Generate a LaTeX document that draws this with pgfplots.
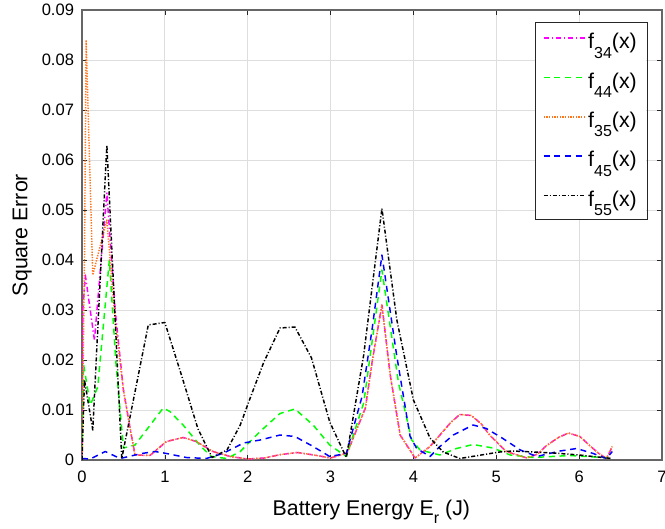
\documentclass[border=0pt]{standalone}
\usepackage{pgfplots}
\pgfplotsset{compat=1.18}
\usepackage{fontspec}
\setmainfont{Liberation Sans}
\definecolor{axgray}{gray}{0.15}
\definecolor{myorange}{rgb}{1,0.45,0.1}
\definecolor{myblue}{rgb}{0,0,1}
\definecolor{mygreen}{rgb}{0,1,0}
\definecolor{mymagenta}{rgb}{1,0,1}
\newcommand{\sub}[1]{\raisebox{-7pt}{\fontsize{12}{12}\selectfont #1}}
\newcommand{\subx}[1]{\raisebox{-6pt}{\fontsize{12}{12}\selectfont #1}}

\pgfplotstableread{
x y
0 0.0
0.03 0.016
0.13 0.006
0.30 0.063
0.48 0.0003
0.80 0.027
1.00 0.0275
1.20 0.017
1.40 0.0062
1.57 0.0005
1.75 0.002
1.91 0.007
2.03 0.0124
2.19 0.0194
2.39 0.0264
2.57 0.0266
2.77 0.0204
2.99 0.0076
3.19 0.0005
3.40 0.021
3.62 0.0503
3.80 0.028
4.00 0.012
4.20 0.0044
4.36 0.0016
4.56 0.0003
5.04 0.0016
5.20 0.0018
5.69 0.0014
6.00 0.001
6.34 0.0004
6.40 0.0003
}\ffive

\pgfplotstableread{
x y
0 0.001
0.01 0.030
0.04 0.037
0.15 0.024
0.30 0.0534
0.40 0.030
0.50 0.014
0.58 0.0064
0.64 0.001
0.82 0.0009
1.02 0.0037
1.22 0.0045
1.38 0.0037
1.58 0.0017
1.79 0.0007
2.00 0.0002
2.20 0.0004
2.40 0.0011
2.60 0.0015
2.80 0.001
3.00 0.0004
3.20 0.0014
3.42 0.0104
3.51 0.0205
3.62 0.031
3.72 0.017
3.84 0.005
4.02 0.0004
4.20 0.0027
4.32 0.005
4.45 0.0075
4.56 0.0091
4.70 0.0089
4.82 0.0072
4.92 0.005
5.12 0.0017
5.37 0.0004
5.50 0.0012
5.60 0.0028
5.75 0.0045
5.87 0.0054
6.01 0.0047
6.12 0.003
6.23 0.0014
6.33 0.0003
6.40 0.0027
}\fthreefour

\pgfplotstableread{
x y
0 0.001
0.03 0.040
0.05 0.084
0.13 0.037
0.30 0.048
0.40 0.028
0.50 0.014
0.58 0.0064
0.64 0.001
0.82 0.0009
1.02 0.0037
1.22 0.0045
1.38 0.0037
1.58 0.0017
1.79 0.0007
2.00 0.0002
2.20 0.0004
2.40 0.0011
2.60 0.0015
2.80 0.001
3.00 0.0004
3.20 0.0014
3.42 0.0104
3.51 0.0205
3.62 0.031
3.72 0.017
3.84 0.005
4.02 0.0004
4.20 0.0027
4.32 0.005
4.45 0.0075
4.56 0.0091
4.70 0.0089
4.82 0.0072
4.92 0.005
5.12 0.0017
5.37 0.0004
5.50 0.0012
5.60 0.0028
5.75 0.0045
5.87 0.0054
6.01 0.0047
6.12 0.003
6.23 0.0014
6.33 0.0003
6.40 0.0027
}\fthreefive

\pgfplotstableread{
x y
0 0.002
0.02 0.019
0.10 0.011
0.19 0.0146
0.33 0.040
0.41 0.0193
0.50 0.0024
0.64 0.003
0.98 0.0104
1.06 0.0097
1.22 0.007
1.42 0.003
1.56 0.0007
1.75 0.0003
1.91 0.0017
2.15 0.0057
2.39 0.0093
2.57 0.0102
2.79 0.007
2.99 0.003
3.19 0.0007
3.40 0.0114
3.62 0.038
3.82 0.0154
3.98 0.004
4.08 0.002
4.32 0.001
4.52 0.0023
4.72 0.0031
4.96 0.0024
5.17 0.001
5.45 0.0005
5.89 0.0009
6.09 0.0007
6.40 0.0004
}\ffourfour

\pgfplotstableread{
x y
0 0.0003
0.10 0.0002
0.28 0.0017
0.46 0.0003
0.72 0.0013
0.88 0.0017
1.02 0.0013
1.26 0.0005
1.50 0.0003
1.70 0.0013
1.95 0.0034
2.15 0.004
2.39 0.005
2.57 0.0047
2.79 0.0027
2.99 0.0007
3.19 0.0013
3.38 0.0127
3.50 0.026
3.62 0.041
3.80 0.0207
3.96 0.0047
4.04 0.0023
4.20 0.0007
4.32 0.0027
4.48 0.005
4.72 0.007
4.88 0.0063
5.08 0.0043
5.29 0.002
5.49 0.0007
5.77 0.0018
5.97 0.0023
6.17 0.0013
6.33 0.0003
6.40 0.0017
}\ffourfive

\begin{document}
\begin{tikzpicture}
\begin{axis}[
  scale only axis, width=435pt, height=337.5pt,
  xmin=0, xmax=7, ymin=0, ymax=0.09,
  xtick={0,1,2,3,4,5,6,7}, xticklabels={0,1,2,3,4,5,6,7},
  ytick={0,0.01,0.02,0.03,0.04,0.05,0.06,0.07,0.08,0.09},
  yticklabels={0,0.01,0.02,0.03,0.04,0.05,0.06,0.07,0.08,0.09},
  scaled y ticks=false,
  tick align=inside, major tick length=4pt,
  tick style={axgray, line width=0.5pt},
  axis line style={black!60, line width=0.9pt},
  grid=major, major grid style={black!13, line width=0.6pt},
  ticklabel style={font=\fontsize{12.4}{14}\selectfont},
  yticklabel style={xshift=-2.5pt},
  xticklabel style={yshift=-4.5pt},
  xlabel={Battery Energy E\subx{r} (J)},
  ylabel={Square Error},
  every axis x label/.style={at={(axis description cs:0.499,-0.124)}, anchor=base,
    font=\fontsize{16}{18}\selectfont},
  every axis y label/.style={at={(axis description cs:-0.1034,0.5)}, rotate=90, anchor=center,
    font=\fontsize{16}{18}\selectfont},
  legend style={at={(axis description cs:0.974,0.9733)}, anchor=north east,
    draw=none, fill=white, line width=1.1pt, name=leg, font=\fontsize{16}{18}\selectfont,
    row sep=12.4pt, inner xsep=5pt, inner ysep=6pt},
  legend cell align=left,
  legend image code/.code={\draw[line width=1.1pt, #1] (0pt,3pt) -- (31pt,3pt);},
]
\addplot[draw=mymagenta, line width=1.1pt, line join=round, dash pattern=on 4pt off 2pt on 1pt off 2pt] table {\fthreefour};
\addlegendentry{f\sub{34}(x)}
\addplot[draw=mygreen, line width=1.1pt, line join=round, dash pattern=on 4.5pt off 3.5pt] table {\ffourfour};
\addlegendentry{f\sub{44}(x)}
\addplot[draw=myorange, line width=1.1pt, line join=round, dash pattern=on 1pt off 1pt] table {\fthreefive};
\addlegendentry{f\sub{35}(x)}
\addplot[draw=myblue, line width=1.1pt, line join=round, dash pattern=on 4.5pt off 3.5pt] table {\ffourfive};
\addlegendentry{f\sub{45}(x)}
\addplot[draw=black, line width=1.1pt, line join=round, dash pattern=on 3pt off 1.5pt on 0.8pt off 1.5pt] table {\ffive};
\addlegendentry{f\sub{55}(x)}
\coordinate (O) at (rel axis cs:0,0);
\end{axis}
\draw[axgray, line width=0.5pt] (leg.south west) rectangle (leg.north east);
\pgfresetboundingbox
\path[use as bounding box] (O) ++(-61.5pt,-51.75pt) rectangle ++(498.75pt,396.75pt);
\end{tikzpicture}
\end{document}
